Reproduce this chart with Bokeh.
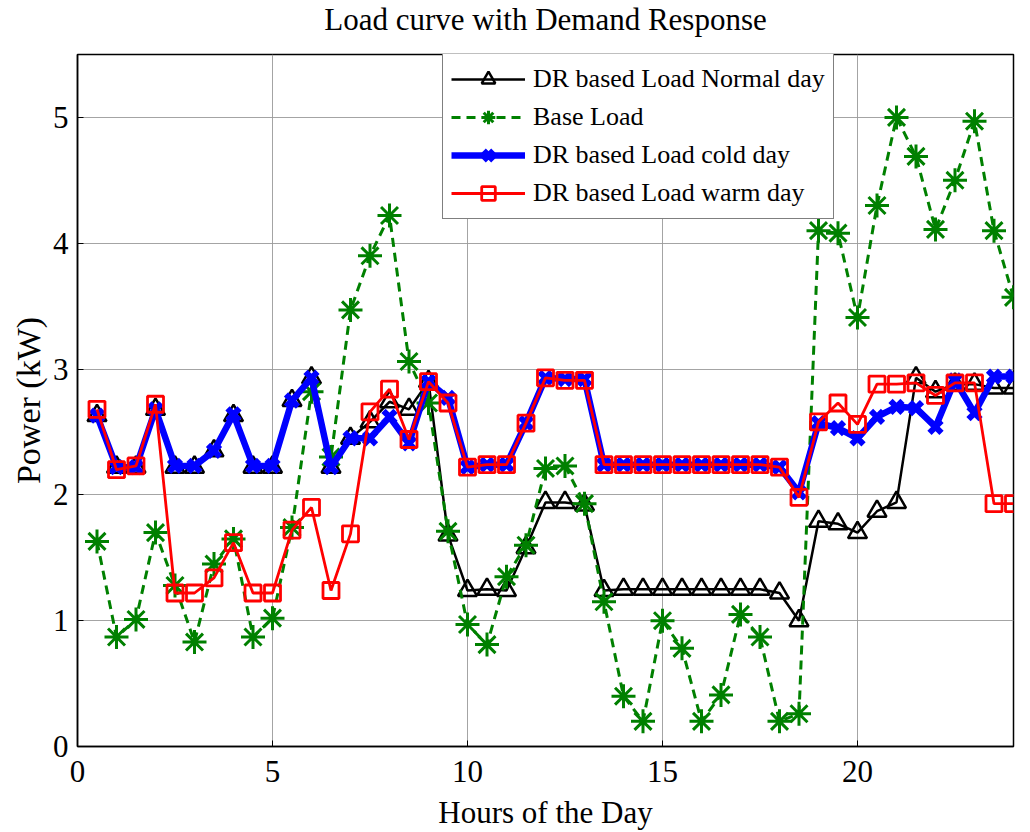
from bokeh.plotting import figure
from bokeh.models import FixedTicker, Range1d, Legend, LegendItem, Label
from bokeh.layouts import column
from bokeh.embed import file_html
from bokeh.resources import INLINE

hours = [0.5, 1.0, 1.5, 2.0, 2.5, 3.0, 3.5, 4.0, 4.5, 5.0, 5.5, 6.0,
         6.5, 7.0, 7.5, 8.0, 8.5, 9.0, 9.5, 10.0, 10.5, 11.0, 11.5, 12.0,
         12.5, 13.0, 13.5, 14.0, 14.5, 15.0, 15.5, 16.0, 16.5, 17.0, 17.5, 18.0,
         18.5, 19.0, 19.5, 20.0, 20.5, 21.0, 21.5, 22.0, 22.5, 23.0, 23.5, 24.0]

normal_day = [2.63, 2.22, 2.22, 2.68, 2.22, 2.22, 2.35, 2.63, 2.22, 2.22, 2.75, 2.93,
              2.22, 2.45, 2.58, 2.74, 2.68, 2.90, 1.68, 1.24, 1.25, 1.24, 1.58, 1.94,
              1.94, 1.92, 1.24, 1.25, 1.25, 1.25, 1.25, 1.25, 1.25, 1.25, 1.25, 1.22,
              1.00, 1.79, 1.77, 1.70, 1.87, 1.94, 2.93, 2.82, 2.88, 2.88, 2.85, 2.85]

base_load = [1.63, 0.87, 1.01, 1.70, 1.28, 0.83, 1.45, 1.65, 0.87, 1.02, 1.74, 2.82,
             2.30, 3.47, 3.90, 4.22, 3.06, 2.73, 1.71, 0.97, 0.81, 1.35, 1.60, 2.21,
             2.23, 1.93, 1.15, 0.40, 0.20, 1.00, 0.78, 0.20, 0.41, 1.05, 0.87, 0.20,
             0.26, 4.10, 4.08, 3.41, 4.30, 5.00, 4.69, 4.11, 4.50, 4.97, 4.10, 3.57]

cold_day = [2.63, 2.22, 2.22, 2.68, 2.23, 2.23, 2.35, 2.64, 2.23, 2.23, 2.75, 2.93,
            2.22, 2.45, 2.45, 2.62, 2.41, 2.90, 2.77, 2.22, 2.24, 2.24, 2.57, 2.93,
            2.92, 2.92, 2.24, 2.24, 2.24, 2.24, 2.24, 2.24, 2.24, 2.24, 2.24, 2.22,
            2.02, 2.57, 2.53, 2.45, 2.62, 2.70, 2.69, 2.54, 2.91, 2.65, 2.94, 2.94]

warm_day = [2.68, 2.20, 2.23, 2.72, 1.22, 1.22, 1.34, 1.62, 1.22, 1.22, 1.72, 1.90,
            1.24, 1.69, 2.66, 2.84, 2.44, 2.90, 2.73, 2.22, 2.24, 2.24, 2.57, 2.93,
            2.91, 2.91, 2.24, 2.24, 2.24, 2.24, 2.24, 2.24, 2.24, 2.24, 2.24, 2.22,
            1.98, 2.58, 2.73, 2.56, 2.88, 2.88, 2.89, 2.79, 2.89, 2.89, 1.93, 1.93]

x_ticks = [0, 5, 10, 15, 20]
y_ticks = [0, 1, 2, 3, 4, 5]
x_title = "Hours of the Day"
y_title = "Power (kW)"
chart_title = "Load curve with Demand Response"
series_names = ["DR based Load Normal day", "Base Load",
                "DR based Load cold day", "DR based Load warm day"]

FONT = "Liberation Serif"
W = 1028
TITLE_H = 46
FRAME_L, FRAME_R, FRAME_T, FRAME_B = 77, 15, 54, 746   # page pixels

# ---- title strip (its frame lines up with the main frame horizontally) ----
pt = figure(width=W, height=TITLE_H, x_range=Range1d(0, 1), y_range=Range1d(0, TITLE_H),
            output_backend="svg", toolbar_location=None,
            x_axis_location=None, y_axis_location=None,
            min_border_left=FRAME_L, min_border_right=FRAME_R,
            min_border_top=0, min_border_bottom=0, margin=0)
pt.grid.visible = False
pt.outline_line_color = None
pt.background_fill_color = "white"
pt.border_fill_color = "white"
pt.add_layout(Label(x=0.5, y=TITLE_H - 19, text=chart_title,
                    text_align="center", text_baseline="alphabetic",
                    text_font=FONT, text_font_size="31px", text_color="black"))

# ---- main plot ---------------------------------------------------------
p = figure(width=W, height=832 - TITLE_H,
           x_range=Range1d(0, 24), y_range=Range1d(0, 5.5),
           output_backend="svg", toolbar_location=None,
           min_border_left=FRAME_L, min_border_right=FRAME_R,
           min_border_top=FRAME_T - TITLE_H, min_border_bottom=86,
           margin=0)

p.background_fill_color = "white"
p.border_fill_color = "white"
p.outline_line_color = "black"
p.outline_line_width = 1.5
p.outline_line_alpha = 1.0

for ax in (p.xaxis, p.yaxis):
    ax.axis_line_color = "black"
    ax.axis_line_width = 1.5
    ax.major_tick_in = 6
    ax.major_tick_out = 0
    ax.minor_tick_line_color = None
    ax.major_label_text_font = FONT
    ax.major_label_text_font_size = "31px"
    ax.major_label_text_color = "black"
    ax.axis_label_text_font = FONT
    ax.axis_label_text_font_style = "normal"
    ax.axis_label_text_color = "black"

p.xaxis.ticker = FixedTicker(ticks=x_ticks)
p.yaxis.ticker = FixedTicker(ticks=y_ticks)
p.xaxis.axis_label = x_title
p.yaxis.axis_label = y_title
p.xaxis.axis_label_text_font_size = "31px"
p.yaxis.axis_label_text_font_size = "34px"
p.xaxis.major_label_standoff = 14
p.xaxis.axis_label_standoff = 10
p.yaxis.major_label_standoff = 9
p.yaxis.axis_label_standoff = 3

p.xgrid.ticker = FixedTicker(ticks=x_ticks)
p.ygrid.ticker = FixedTicker(ticks=y_ticks)
for g in (p.xgrid, p.ygrid):
    g.grid_line_color = "#9a9a9a"
    g.grid_line_width = 1
    g.grid_line_alpha = 0.9

# DR based Load Normal day
r1l = p.line(hours, normal_day, line_color="black", line_width=2.5)
r1m = p.scatter(hours, normal_day, marker="triangle", size=19, fill_color=None,
                line_color="black", line_width=2.5)

# Base Load
r2l = p.line(hours, base_load, line_color="#008000", line_width=3, line_dash="9 6")
r2m = p.scatter(hours, base_load, marker="asterisk", size=24,
                line_color="#008000", line_width=3)

# DR based Load cold day
r3l = p.line(hours, cold_day, line_color="#0000ff", line_width=6.5)
r3m = p.scatter(hours, cold_day, marker="x", size=17,
                line_color="#0000ff", line_width=6)

# DR based Load warm day
r4l = p.line(hours, warm_day, line_color="#ff0000", line_width=2.8)
r4m = p.scatter(hours, warm_day, marker="square", size=16, fill_color=None,
                line_color="#ff0000", line_width=2.8)

LG_PAD, LG_ITEM_H, LG_SPACING = 8, 34, 4
lg_height = 2 * LG_PAD + 4 * LG_ITEM_H + 3 * LG_SPACING
frame_h = FRAME_B - FRAME_T
lg_left = 442 - FRAME_L
lg_top = 1

items = [LegendItem(label=series_names[0], renderers=[r1l, r1m]),
         LegendItem(label=series_names[1], renderers=[r2l, r2m]),
         LegendItem(label=series_names[2], renderers=[r3l, r3m]),
         LegendItem(label=series_names[3], renderers=[r4l, r4m])]

legend = Legend(items=items, location=(lg_left, frame_h - lg_height - lg_top),
                label_text_font=FONT, label_text_font_size="26px",
                label_text_font_style="normal", label_text_color="black",
                glyph_width=74, glyph_height=LG_ITEM_H, label_height=LG_ITEM_H,
                spacing=LG_SPACING, padding=LG_PAD, margin=0, label_standoff=8,
                border_line_color="black", border_line_width=1.2,
                background_fill_color="white", background_fill_alpha=1.0)
p.add_layout(legend, "center")

layout = column(pt, p, spacing=0)
open("out.html", "w").write(file_html(layout, INLINE))
